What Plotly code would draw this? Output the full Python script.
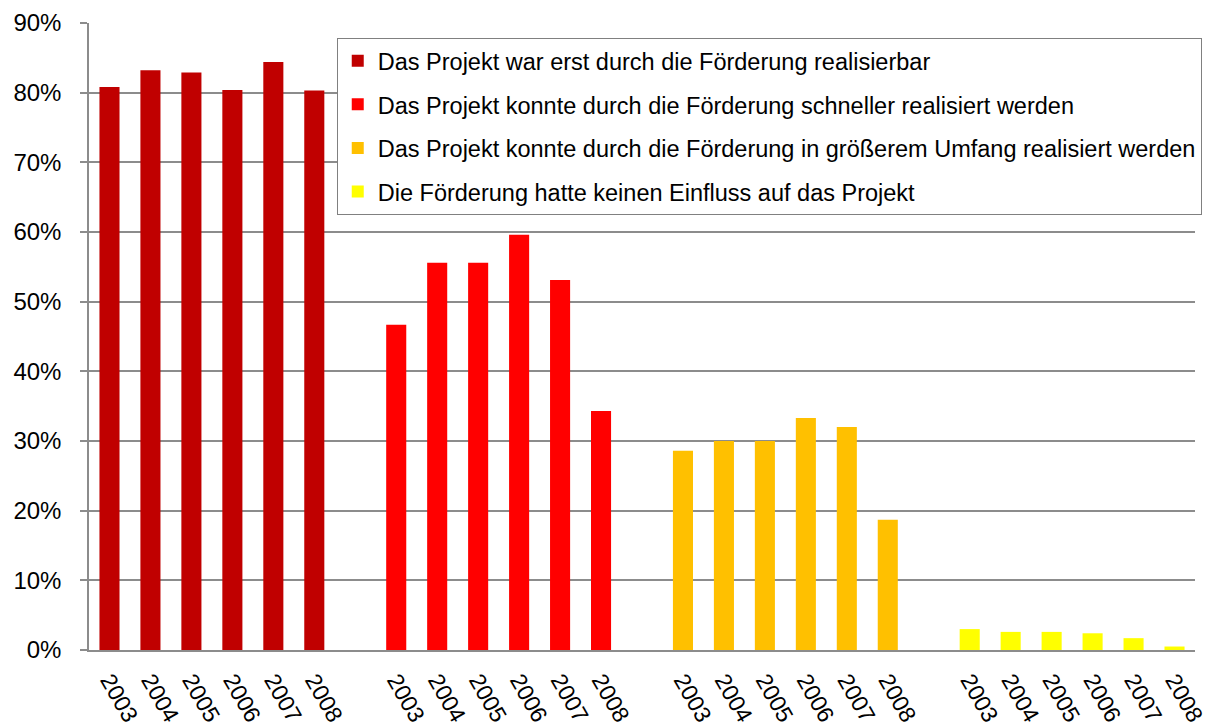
import plotly.graph_objects as go

years = ["2003", "2004", "2005", "2006", "2007", "2008"]
series_names = [
    "Das Projekt war erst durch die Förderung realisierbar",
    "Das Projekt konnte durch die Förderung schneller realisiert werden",
    "Das Projekt konnte durch die Förderung in größerem Umfang realisiert werden",
    "Die Förderung hatte keinen Einfluss auf das Projekt",
]
erst_realisierbar = [0.808, 0.832, 0.829, 0.804, 0.844, 0.803]
schneller = [0.467, 0.556, 0.556, 0.596, 0.531, 0.343]
groesserer_umfang = [0.286, 0.300, 0.300, 0.333, 0.320, 0.187]
kein_einfluss = [0.030, 0.026, 0.026, 0.024, 0.017, 0.005]
series_values = [erst_realisierbar, schneller, groesserer_umfang, kein_einfluss]
colors = ["#C00000", "#FF0000", "#FFC000", "#FFFF00"]

slots_per_group = len(years) + 1  # one empty slot between groups

fig = go.Figure()
tickvals, ticktext = [], []
for g, (name, vals, col) in enumerate(zip(series_names, series_values, colors)):
    xs = [g * slots_per_group + j for j in range(len(years))]
    tickvals += xs
    ticktext += years
    fig.add_trace(go.Bar(
        x=xs, y=vals, name=name, marker_color=col, width=0.49,
        marker_line_width=0, legendgroup=f"g{g}",
    ))

font_family = "Liberation Sans, Arial, sans-serif"
# the page body has an 8px margin, so the figure is sized to fit the window
fig.update_layout(
    width=1211, height=716,
    margin=dict(l=81, r=24, t=15, b=74),
    paper_bgcolor="white", plot_bgcolor="white",
    barmode="overlay",
    font=dict(family=font_family, size=22, color="black"),
    showlegend=True,
    legend=dict(
        x=0.224, y=0.976, xanchor="left", yanchor="top",
        bgcolor="white", bordercolor="#808080", borderwidth=1,
        font=dict(size=23.5, family=font_family, color="black"),
        tracegroupgap=10, traceorder="grouped",
    ),
)
fig.update_xaxes(
    range=[-0.5, 4 * slots_per_group - 1.5],
    tickmode="array", tickvals=tickvals, ticktext=ticktext,
    tickangle=60, ticks="", showgrid=False, automargin=False,
    showline=True, linecolor="#8c8c8c", linewidth=2,
    ticklabelstandoff=6,
    tickfont=dict(size=23, family=font_family, color="black"),
)
fig.update_yaxes(
    range=[0, 0.9], dtick=0.1, tick0=0, tickformat=".0%",
    showgrid=True, gridcolor="#8c8c8c", gridwidth=1.5,
    showline=True, linecolor="#8c8c8c", linewidth=1.5,
    ticks="outside", ticklen=7, tickcolor="#8c8c8c", tickwidth=1.5,
    zeroline=False, ticklabelstandoff=14, automargin=False,
    tickfont=dict(size=24, family=font_family, color="black"),
)

fig.write_html("out.html")
